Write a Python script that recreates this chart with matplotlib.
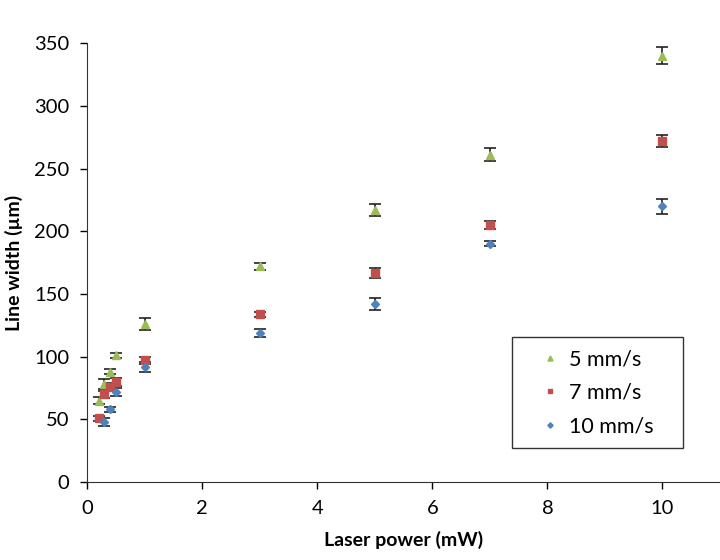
import matplotlib
matplotlib.use("Agg")
from matplotlib import pyplot as plt
from matplotlib.patches import Rectangle

plt.rcParams['font.family'] = ['Lato', 'DejaVu Sans']

# data
power_5 = [0.2, 0.3, 0.4, 0.5, 1, 3, 5, 7, 10]
width_5 = [65, 78, 88, 101, 126, 172, 217, 261, 340]
err_5 = [3, 4, 2, 2, 5, 3, 5, 5, 7]

power_7 = [0.2, 0.3, 0.4, 0.5, 1, 3, 5, 7, 10]
width_7 = [51, 70, 76, 80, 97, 134, 167, 205, 272]
err_7 = [2, 3, 3, 3, 3, 2, 4, 3, 5]

power_10 = [0.3, 0.4, 0.5, 1, 3, 5, 7, 10]
width_10 = [48, 58, 72, 92, 119, 142, 190, 220]
err_10 = [3, 2, 3, 4, 3, 5, 2, 6]

labels = ['5 mm/s', '7 mm/s', '10 mm/s']
colors = ['#9BBB59', '#C0504D', '#4F81BD']
markers = ['^', 's', 'D']
sizes = [6, 6, 4.5]

fig = plt.figure(figsize=(7.2, 5.6), dpi=100)
ax = fig.add_axes([0.121, 0.139, 0.879, 0.784])

series = [(power_5, width_5, err_5), (power_7, width_7, err_7), (power_10, width_10, err_10)]
for (x, y, e), lab, c, m, s in zip(series, labels, colors, markers, sizes):
    ax.errorbar(x, y, yerr=e, fmt=m, color=c, markersize=s, ecolor='#222222',
                elinewidth=1.2, capsize=4.5, capthick=1.2, label=lab, zorder=3)

ax.set_xlim(0, 11)
ax.set_ylim(0, 350)
ax.set_xticks([0, 2, 4, 6, 8, 10])
ax.set_yticks(range(0, 351, 50))
ax.tick_params(direction='out', length=5, width=1, labelsize=14.5, pad=8)
ax.spines['top'].set_visible(False)
ax.spines['right'].set_visible(False)
for sp in ['left', 'bottom']:
    ax.spines[sp].set_color('#333333')

ax.set_xlabel('Laser power (mW)', fontsize=14, fontweight='bold', labelpad=10)
ax.set_ylabel('Line width (µm)', fontsize=14, fontweight='bold', labelpad=8)

# legend frame drawn separately so the entries sit centred in it
ax.add_patch(Rectangle((0.671, 0.077), 0.27, 0.253, transform=ax.transAxes,
                       facecolor='white', edgecolor='#333333', linewidth=1, zorder=4))
handles = [plt.Line2D([], [], marker=m, color=c, linestyle='none', markersize=s * 0.6)
           for m, c, s in zip(markers, colors, sizes)]
leg = ax.legend(handles, labels, loc='center', bbox_to_anchor=(0.806, 0.2035),
                fontsize=15.5, frameon=False, handlelength=0.8, handletextpad=0.5,
                labelspacing=0.62, borderpad=0)
leg.set_zorder(5)

fig.savefig('out.png', dpi=100)
